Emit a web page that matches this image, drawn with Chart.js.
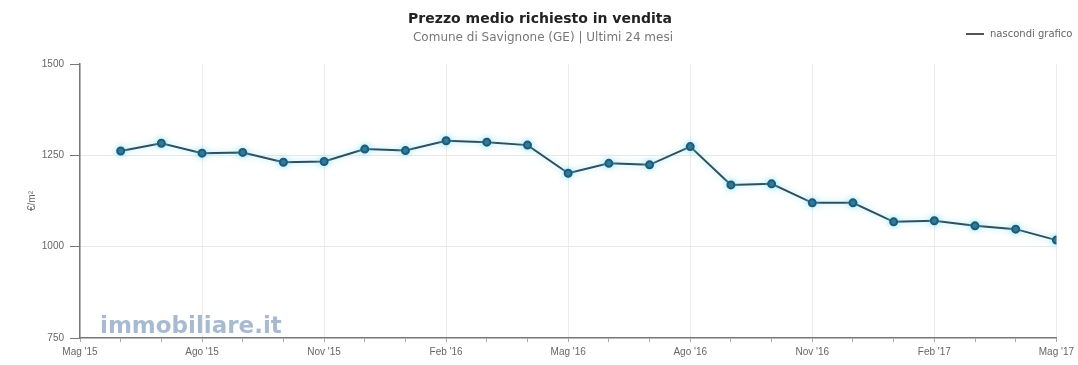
<!DOCTYPE html>
<html>
<head>
<meta charset="utf-8">
<script src="https://cdn.jsdelivr.net/npm/chart.js@4/dist/chart.umd.min.js"></script>
<style>
html,body{margin:0;padding:0;background:#fff;}
#wrap{width:1078px;height:365px;position:relative;}
</style>
</head>
<body>
<div id="wrap"><canvas id="c" width="1078" height="365"></canvas></div>
<script>
const months = ["Giu '15","Lug '15","Ago '15","Set '15","Ott '15","Nov '15","Dic '15","Gen '16","Feb '16","Mar '16","Apr '16","Mag '16","Giu '16","Lug '16","Ago '16","Set '16","Ott '16","Nov '16","Dic '16","Gen '17","Feb '17","Mar '17","Apr '17","Mag '17"];
const prices = [1262,1283,1256,1258,1231,1233,1267,1263,1290,1286,1278,1201,1228,1224,1274,1169,1172,1120,1120,1068,1071,1057,1048,1018];
const xTickLabels = ["Mag '15","Ago '15","Nov '15","Feb '16","Mag '16","Ago '16","Nov '16","Feb '17","Mag '17"];
const yTicks = [750,1000,1250,1500];
const titleText = "Prezzo medio richiesto in vendita";
const subtitleText = "Comune di Savignone (GE) | Ultimi 24 mesi";
const legendText = "nascondi grafico";
const watermarkText = "immobiliare.it";

const points = prices.map((v,i)=>({x:i+1,y:v}));

const textPlugin = {
  id:'texts',
  beforeDatasetsDraw(chart){
    const ctx = chart.ctx;
    ctx.save();
    ctx.font = 'bold 23px "DejaVu Sans", sans-serif';
    ctx.fillStyle = 'rgba(110,140,180,0.6)';
    ctx.textBaseline = 'alphabetic';
    ctx.textAlign = 'left';
    ctx.fillText(watermarkText, 100, 333);
    ctx.restore();
  },
  afterDraw(chart){
    const ctx = chart.ctx;
    ctx.save();
    ctx.textAlign = 'center';
    ctx.textBaseline = 'middle';
    ctx.fillStyle = '#222';
    ctx.font = 'bold 14px "DejaVu Sans", sans-serif';
    ctx.fillText(titleText, 540, 19);
    ctx.fillStyle = '#777';
    ctx.font = '12px "DejaVu Sans", sans-serif';
    ctx.fillText(subtitleText, 543, 38);
    // legend
    ctx.textAlign = 'left';
    ctx.font = '10px "DejaVu Sans", sans-serif';
    ctx.fillStyle = '#666';
    ctx.fillText(legendText, 990, 34);
    ctx.strokeStyle = '#555';
    ctx.lineWidth = 2;
    ctx.beginPath(); ctx.moveTo(966,34); ctx.lineTo(984,34); ctx.stroke();
    ctx.restore();
  }
};

const glowPlugin = {
  id:'glow',
  beforeDatasetDraw(chart){
    const ctx = chart.ctx;
    ctx.save();
    ctx.shadowColor = 'rgba(120,220,235,0.7)';
    ctx.shadowBlur = 6;
  },
  afterDatasetDraw(chart){ chart.ctx.restore(); }
};

new Chart(document.getElementById('c'), {
  type:'line',
  data:{ datasets:[{
    label: legendText,
    data: points,
    borderColor:'#2f4f60',
    borderWidth:2,
    pointBackgroundColor:'#1d5b7c',
    pointBorderColor:'#1d5b7c',
    pointRadius:3.5,
    tension:0
  }]},
  options:{
    responsive:false,
    animation:false,
    layout:{padding:{left:0,right:18,top:64,bottom:0}},
    plugins:{legend:{display:false},tooltip:{enabled:false},title:{display:false}},
    scales:{
      x:{
        type:'linear', min:0, max:24,
        afterBuildTicks(s){ s.ticks = Array.from({length:25},(_,i)=>({value:i})); },
        afterFit(s){ s.height = 27; },
        border:{color:'#777',width:1.5},
        grid:{
          color:(c)=> (c.tick && c.tick.value%3===0) ? '#ececec' : 'rgba(0,0,0,0)',
          tickColor:'#aaa', tickLength:4, drawTicks:true
        },
        ticks:{
          autoSkip:false, maxRotation:0, padding:4,
          color:'#666', font:{size:10,family:'"Liberation Sans", Arial, sans-serif'},
          callback:(v)=> v%3===0 ? xTickLabels[v/3] : ''
        }
      },
      y:{
        min:750, max:1500,
        afterBuildTicks(s){ s.ticks = yTicks.map(v=>({value:v})); },
        afterFit(s){ s.width = 80; },
        border:{color:'#777',width:1.5},
        grid:{ color:(c)=> (c.tick && (c.tick.value===750||c.tick.value===1500)) ? 'rgba(0,0,0,0)' : '#e9e9e9',
               tickColor:'#777', tickLength:10 },
        ticks:{ color:'#666', padding:6, font:{size:10,family:'"Liberation Sans", Arial, sans-serif'},
                callback:(v)=> String(v) },
        title:{ display:true, text:'€/m²', color:'#666', font:{size:10,family:'"Liberation Sans", Arial, sans-serif'}, padding:{top:26,bottom:0} }
      }
    }
  },
  plugins:[textPlugin, glowPlugin]
});
</script>
</body>
</html>
